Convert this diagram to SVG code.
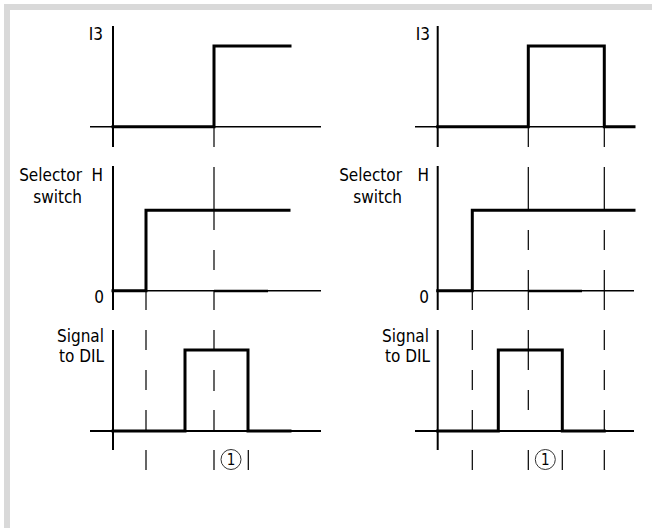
<svg xmlns="http://www.w3.org/2000/svg" width="652" height="528" viewBox="0 0 652 528">
<style>
.frame{fill:#d9d9d9}
.ax{stroke:#000;stroke-width:2;fill:none}
.hx{stroke:#000;stroke-width:1.5;fill:none}
.sig{stroke:#000;stroke-width:3;fill:none;stroke-linejoin:miter;stroke-linecap:square}
.mk{stroke:#000;stroke-width:1.2;fill:none}
.lbl{font-family:"DejaVu Sans Condensed","DejaVu Sans",sans-serif;font-stretch:condensed;font-size:17px;fill:#000;text-anchor:end}
.num{font-family:"DejaVu Sans Condensed","DejaVu Sans",sans-serif;font-stretch:condensed;font-size:15px;fill:#000;text-anchor:middle}
.circ{stroke:#333;stroke-width:1;fill:none}
</style>
<rect class="frame" x="4" y="4" width="648" height="6"/>
<rect class="frame" x="4" y="4" width="6" height="524"/>

<g id="left-panel">
  <g id="left-i3">
    <text class="lbl" x="103" y="40">I3</text>
    <path class="ax" d="M113 26V147"/>
    <path class="hx" d="M90 126.7H321"/>
    <path class="sig" d="M113 126.7H214V46H290"/>
  </g>
  <g id="left-selector">
    <text class="lbl" x="82" y="181">Selector</text>
    <text class="lbl" x="82" y="203">switch</text>
    <text class="lbl" x="103" y="181">H</text>
    <text class="lbl" x="104" y="303">0</text>
    <path class="ax" d="M113 166V310"/>
    <path class="hx" d="M113 290.7H321"/>
    <path class="sig" d="M113 290.7H146V210.3H289"/>
    <path class="sig" d="M214 291H268" style="stroke-width:2.5;stroke-linecap:butt"/>
  </g>
  <g id="left-signal">
    <text class="lbl" x="104" y="342">Signal</text>
    <text class="lbl" x="104" y="362">to DIL</text>
    <path class="ax" d="M113 330V450"/>
    <path class="hx" d="M90 431H321" style="stroke-width:2"/>
    <path class="sig" d="M113 431H185V350H248V431H290"/>
  </g>
  <g id="left-marker">
    <circle class="circ" cx="231" cy="459.5" r="10"/>
    <text class="num" x="231" y="465">1</text>
  </g>
</g>

<g id="right-panel">
  <g id="right-i3">
    <text class="lbl" x="430" y="40">I3</text>
    <path class="ax" d="M437.7 26V147"/>
    <path class="hx" d="M415 126.7H634"/>
    <path class="sig" d="M437.7 126.7H528.3V46H604.3V126.7H634"/>
  </g>
  <g id="right-selector">
    <text class="lbl" x="402" y="181">Selector</text>
    <text class="lbl" x="402" y="203">switch</text>
    <text class="lbl" x="429" y="181">H</text>
    <text class="lbl" x="429" y="303">0</text>
    <path class="ax" d="M437.7 166V310"/>
    <path class="hx" d="M437.7 290.7H634"/>
    <path class="sig" d="M437.7 290.7H472.3V210.3H634"/>
    <path class="sig" d="M528.3 291H582" style="stroke-width:2.5;stroke-linecap:butt"/>
  </g>
  <g id="right-signal">
    <text class="lbl" x="429" y="342">Signal</text>
    <text class="lbl" x="430" y="362">to DIL</text>
    <path class="ax" d="M437.7 330V450"/>
    <path class="hx" d="M415 431H634" style="stroke-width:2"/>
    <path class="sig" d="M437.7 431H498.3V350H562.3V431H604.3"/>
  </g>
  <g id="right-marker">
    <circle class="circ" cx="545.3" cy="459.5" r="10"/>
    <text class="num" x="545.3" y="465">1</text>
  </g>
</g>

<g id="connectors">
  <path class="mk" d="M146 291V310M146 330V350M146 370V390M146 410V431M146 450V470"/>
  <path class="mk" d="M214 127V147M214 167V230M214 250V270M214 291V310M214 330V351M214 370V391M214 410V431M214 450V470"/>
  <path class="mk" d="M248.3 450V470"/>
  <path class="mk" d="M472.3 291V310M472.3 330V350M472.3 370V390M472.3 410V431M472.3 450V470"/>
  <path class="mk" d="M528.3 127V147M528.3 167V210M528.3 230V250M528.3 270V310M528.3 330V370M528.3 390V410M528.3 450V470"/>
  <path class="mk" d="M562.3 450V470"/>
  <path class="mk" d="M604.3 127V147M604.3 167V210M604.3 230V250M604.3 270V310M604.3 330V350M604.3 370V390M604.3 410V431M604.3 450V470"/>
</g>
</svg>
